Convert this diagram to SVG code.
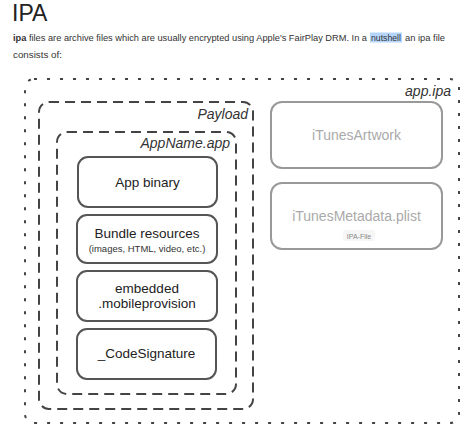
<svg xmlns="http://www.w3.org/2000/svg" width="474" height="438" viewBox="0 0 474 438">
<style>
text{font-family:"Liberation Sans",Arial,sans-serif}
.body{font-size:9.4px;fill:#333}
.lbl{font-size:14px;font-style:italic;fill:#333;text-anchor:end}
.box{fill:#fff;stroke:#555;stroke-width:2}
.gbox{fill:#fff;stroke:#999;stroke-width:2}
.t{font-size:13.5px;fill:#222;text-anchor:middle}
.gt{font-size:14px;fill:#aaa;text-anchor:middle}
.s{font-size:9.5px;fill:#333;text-anchor:middle}
</style>
<rect width="474" height="438" fill="#fff"/>
<text x="12" y="21" style="font-size:23px;fill:#222">IPA</text>
<rect x="370" y="32.5" width="32" height="10" fill="#b5d5fd"/>
<text x="13" y="41" class="body" textLength="354" lengthAdjust="spacingAndGlyphs"><tspan font-weight="bold">ipa</tspan> files are archive files which are usually encrypted using Apple's FairPlay DRM. In a</text>
<text x="371" y="41" class="body" textLength="30" lengthAdjust="spacingAndGlyphs">nutshell</text>
<text x="405" y="41" class="body" textLength="40" lengthAdjust="spacingAndGlyphs">an ipa file</text>
<text x="13" y="58" class="body" textLength="49" lengthAdjust="spacingAndGlyphs">consists of:</text>
<g id="app-ipa">
<rect x="25" y="79" width="434" height="344" rx="9" fill="none" stroke="#444" stroke-width="2" stroke-dasharray="3 10"/>
<text x="451" y="96" class="lbl">app.ipa</text>
</g>
<g id="payload">
<rect x="39" y="102" width="214" height="307" rx="10" fill="none" stroke="#444" stroke-width="2" stroke-dasharray="10 6"/>
<text x="248" y="119" class="lbl">Payload</text>
</g>
<g id="appname">
<rect x="57" y="132" width="179" height="262" rx="10" fill="none" stroke="#444" stroke-width="2" stroke-dasharray="10 6"/>
<text x="230" y="148" class="lbl">AppName.app</text>
</g>
<g id="app-binary">
<rect x="78" y="157" width="139" height="50" rx="10" class="box"/>
<text x="147.5" y="187" class="t">App binary</text>
</g>
<g id="bundle-resources">
<rect x="77" y="215" width="140" height="48" rx="10" class="box"/>
<text x="147" y="238" class="t">Bundle resources</text>
<text x="147" y="252" class="s">(images, HTML, video, etc.)</text>
</g>
<g id="embedded">
<rect x="77" y="271" width="140" height="50" rx="10" class="box"/>
<text x="147" y="293" class="t">embedded</text>
<text x="147" y="308" class="t">.mobileprovision</text>
</g>
<g id="codesignature">
<rect x="77" y="329" width="139" height="50" rx="10" class="box"/>
<text x="146.5" y="358" class="t">_CodeSignature</text>
</g>
<g id="itunesartwork">
<rect x="271" y="102" width="171" height="66" rx="11" class="gbox"/>
<text x="356.5" y="140" class="gt">iTunesArtwork</text>
</g>
<g id="itunesmetadata">
<rect x="271" y="183" width="171" height="66" rx="11" class="gbox"/>
<text x="356.5" y="221" class="gt">iTunesMetadata.plist</text>
<rect x="343" y="230" width="32" height="11" rx="2" fill="#f6f6f6"/>
<text x="359" y="238.5" style="font-size:7px;fill:#888;text-anchor:middle">IPA-File</text>
</g>
<g id="connectors"/>
</svg>
